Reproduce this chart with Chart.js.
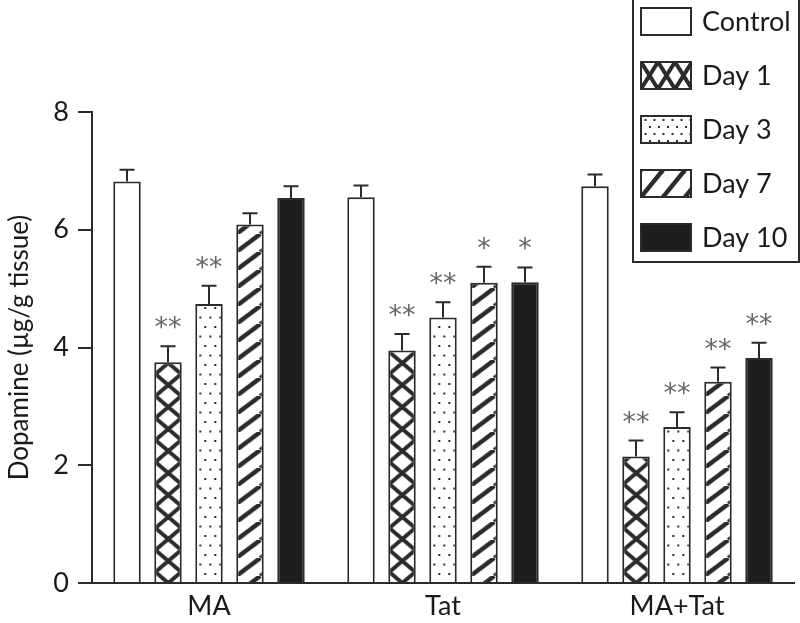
<!DOCTYPE html>
<html>
<head>
<meta charset="utf-8">
<script src="https://cdn.jsdelivr.net/npm/chart.js@4.4.1/dist/chart.umd.min.js"></script>
<style>
  html, body { margin: 0; padding: 0; background: #fff; }
  #wrap { width: 800px; height: 623px; }
</style>
</head>
<body>
<div id="wrap"><canvas id="chart" width="800" height="623"></canvas></div>
<script>
const groups = ['MA', 'Tat', 'MA+Tat'];
const seriesNames = ['Control', 'Day 1', 'Day 3', 'Day 7', 'Day 10'];
const yTicks = [0, 2, 4, 6, 8];

const control = [6.82, 6.55, 6.74];
const day1 = [3.75, 3.95, 2.15];
const day3 = [4.74, 4.51, 2.65];
const day7 = [6.09, 5.10, 3.42];
const day10 = [6.54, 5.11, 3.82];

const controlErr = [0.20, 0.20, 0.20];
const day1Err = [0.27, 0.28, 0.27];
const day3Err = [0.31, 0.26, 0.25];
const day7Err = [0.19, 0.27, 0.24];
const day10Err = [0.20, 0.25, 0.26];

const controlStars = ['', '', ''];
const day1Stars = ['**', '**', '**'];
const day3Stars = ['**', '**', '**'];
const day7Stars = ['', '*', '**'];
const day10Stars = ['', '*', '**'];

const INK = '#2b2b2b', FONT = 'Lato, "Open Sans", sans-serif';
const CAT_PCT = 0.876, BAR_PCT = 0.67;

function tile(w, h, draw) {
    const c = document.createElement('canvas');
    c.width = w; c.height = h;
    const g = c.getContext('2d');
    g.fillStyle = '#fff'; g.fillRect(0, 0, w, h);
    g.strokeStyle = INK; g.fillStyle = INK;
    draw(g, w, h);
    return c;
}
const crossTile = (w, h, lw) => tile(w, h, (g) => {
    g.lineWidth = lw;
    for (let k = -1; k <= 1; k++) {
        g.beginPath();
        g.moveTo(k * w, 0); g.lineTo(k * w + w, h);
        g.moveTo(k * w, h); g.lineTo(k * w + w, 0);
        g.stroke();
    }
});
const stripeTile = (w, h, lw) => tile(w, h, (g) => {
    g.lineWidth = lw;
    for (let k = -1; k <= 1; k++) {
        g.beginPath(); g.moveTo(k * w, h); g.lineTo(k * w + w, 0); g.stroke();
    }
});
const dotTile = (w, h) => tile(w, h, (g) => {
    g.fillRect(w / 2 - 1, 3, 2, 2);
    g.fillRect(-1, 3 + h / 2, 2, 2); g.fillRect(w - 1, 3 + h / 2, 2, 2);
});

const barTiles = { cross: crossTile(26, 22, 4), dots: dotTile(10, 19), stripes: stripeTile(24, 18, 4.5) };
const legTiles = { cross: crossTile(17, 27, 4), dots: dotTile(9, 14), stripes: stripeTile(22, 27, 4.5) };
const tileShift = { cross: 1, dots: 5, stripes: 0 };

function barFill(kind) {
    return (c) => {
        const chart = c.chart, xs = chart.scales.x;
        const p = chart.ctx.createPattern(barTiles[kind], 'repeat');
        if (c.type === 'data' && xs) {
            const slot = xs.width / groups.length * CAT_PCT / seriesNames.length;
            const left = xs.getPixelForValue(c.dataIndex) + (c.datasetIndex - (seriesNames.length - 1) / 2) * slot - slot * BAR_PCT / 2;
            p.setTransform(new DOMMatrix([1, 0, 0, 1, left + tileShift[kind], 0]));
        }
        return p;
    };
}

const mk = (label, data, err, stars, fill) => ({
    label, data, err, stars, backgroundColor: fill, borderColor: INK, borderWidth: 2,
    categoryPercentage: CAT_PCT, barPercentage: BAR_PCT
});

const datasets = [
    mk(seriesNames[0], control, controlErr, controlStars, '#fff'),
    mk(seriesNames[1], day1, day1Err, day1Stars, barFill('cross')),
    mk(seriesNames[2], day3, day3Err, day3Stars, barFill('dots')),
    mk(seriesNames[3], day7, day7Err, day7Stars, barFill('stripes')),
    mk(seriesNames[4], day10, day10Err, day10Stars, '#1e1e1e')
];
const legendKinds = ['#fff', 'cross', 'dots', 'stripes', '#1e1e1e'];

const errorBars = {
    id: 'errorBars',
    afterDatasetsDraw(chart) {
        const ctx = chart.ctx, ys = chart.scales.y;
        ctx.save();
        ctx.strokeStyle = INK; ctx.lineWidth = 2;
        ctx.font = '27px "DejaVu Sans"'; ctx.fillStyle = '#666'; ctx.textAlign = 'center';
        chart.data.datasets.forEach((ds, i) => {
            chart.getDatasetMeta(i).data.forEach((bar, j) => {
                const top = ys.getPixelForValue(ds.data[j] + ds.err[j]);
                ctx.beginPath();
                ctx.moveTo(bar.x, bar.y); ctx.lineTo(bar.x, top);
                ctx.moveTo(bar.x - 7.5, top); ctx.lineTo(bar.x + 7.5, top);
                ctx.stroke();
                if (ds.stars[j]) ctx.fillText(ds.stars[j], bar.x, top - 10);
            });
        });
        ctx.restore();
    }
};

const boxLegend = {
    id: 'boxLegend',
    afterDraw(chart) {
        const ctx = chart.ctx;
        ctx.save();
        ctx.fillStyle = '#fff'; ctx.strokeStyle = INK; ctx.lineWidth = 2;
        ctx.fillRect(633, 0, 166, 262); ctx.strokeRect(633, -1, 166, 263);
        ctx.font = '27px ' + FONT; ctx.textBaseline = 'middle'; ctx.textAlign = 'left';
        seriesNames.forEach((name, i) => {
            const x = 641, y = 8 + i * 54, w = 50, h = 27, k = legendKinds[i];
            if (legTiles[k]) {
                const p = ctx.createPattern(legTiles[k], 'repeat');
                p.setTransform(new DOMMatrix([1, 0, 0, 1, x, y]));
                ctx.fillStyle = p;
            } else ctx.fillStyle = k;
            ctx.fillRect(x, y, w, h);
            ctx.strokeRect(x, y, w, h);
            ctx.fillStyle = '#1a1a1a';
            ctx.fillText(name, 702, y + h / 2 + 1);
        });
        ctx.restore();
    }
};

new Chart(document.getElementById('chart'), {
    type: 'bar',
    data: { labels: groups, datasets },
    plugins: [errorBars, boxLegend],
    options: {
        responsive: false, animation: false, events: [],
        layout: { padding: { top: 112, right: 6, left: 0, bottom: 0 } },
        plugins: { legend: { display: false }, tooltip: { enabled: false } },
        scales: {
            x: {
                grid: { display: false, drawTicks: false },
                border: { display: true, color: INK, width: 2 },
                ticks: { color: '#1a1a1a', font: { family: FONT, size: 27 }, padding: 7 },
                afterFit: (s) => { s.height = 40; }
            },
            y: {
                min: 0, max: 8,
                afterBuildTicks: (s) => { s.ticks = yTicks.map(v => ({ value: v })); },
                grid: { drawOnChartArea: false, drawTicks: true, tickLength: 14, color: INK, lineWidth: 2 },
                border: { display: true, color: INK, width: 2 },
                ticks: { color: '#1a1a1a', font: { family: FONT, size: 27 }, padding: 9 },
                title: { display: true, text: 'Dopamine (µg/g tissue)', color: '#1a1a1a', font: { family: FONT, size: 26 }, padding: { top: 4, bottom: 0 } },
                afterFit: (s) => { s.width = 92; }
            }
        }
    }
});
</script>
</body>
</html>
